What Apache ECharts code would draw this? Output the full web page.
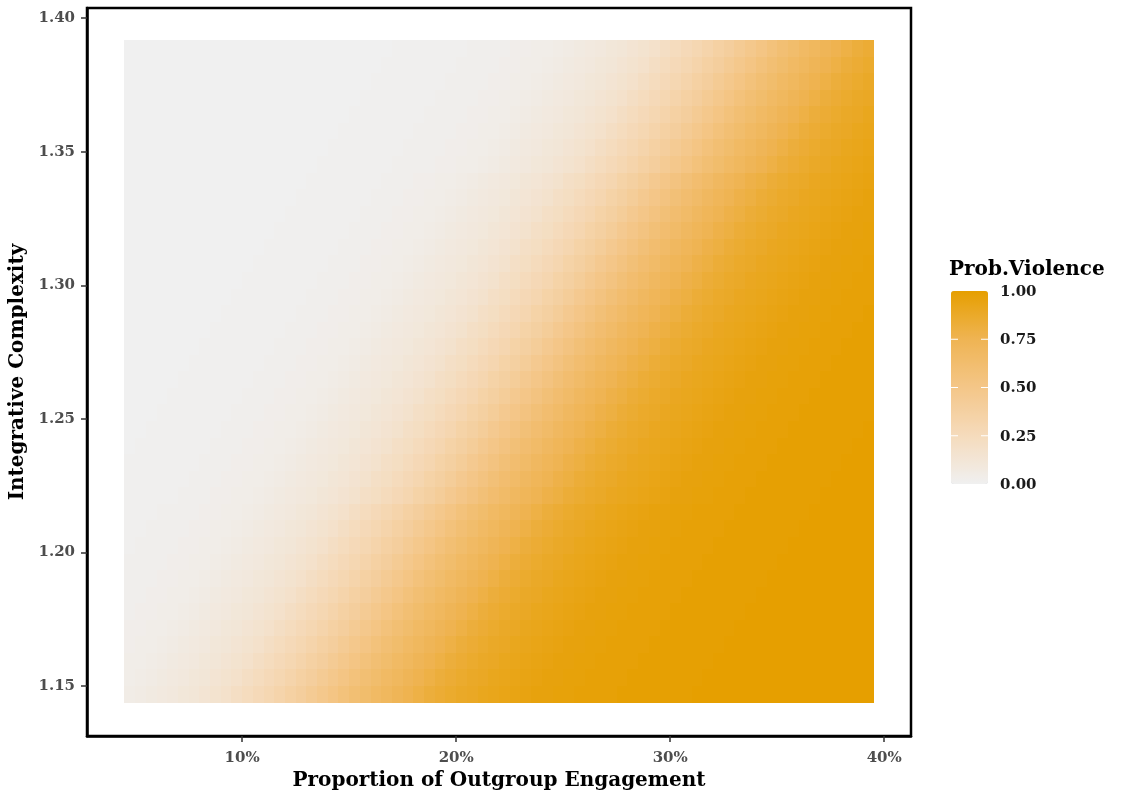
<!DOCTYPE html>
<html>
<head>
<meta charset="utf-8">
<script src="https://cdn.jsdelivr.net/npm/echarts@6/dist/echarts.min.js"></script>
<style>
  html, body { margin: 0; padding: 0; background: #fff; }
  #chart { width: 1121px; height: 794px; }
</style>
</head>
<body>
<div id="chart"></div>
<script>
// Proportion of outgroup engagement (%), column centres
const xVals = [4.75,5.25,5.75,6.25,6.75,7.25,7.75,8.25,8.75,9.25,
  9.75,10.25,10.75,11.25,11.75,12.25,12.75,13.25,13.75,14.25,
  14.75,15.25,15.75,16.25,16.75,17.25,17.75,18.25,18.75,19.25,
  19.75,20.25,20.75,21.25,21.75,22.25,22.75,23.25,23.75,24.25,
  24.75,25.25,25.75,26.25,26.75,27.25,27.75,28.25,28.75,29.25,
  29.75,30.25,30.75,31.25,31.75,32.25,32.75,33.25,33.75,34.25,
  34.75,35.25,35.75,36.25,36.75,37.25,37.75,38.25,38.75,39.25]
// Integrative complexity, row centres (bottom to top)
const yVals = [1.1469,1.1531,1.1593,1.1655,1.1717,1.1779,1.1841,1.1903,1.1965,1.2027,
  1.2089,1.2151,1.2213,1.2275,1.2337,1.2399,1.2461,1.2523,1.2585,1.2647,
  1.2709,1.2771,1.2833,1.2895,1.2957,1.3019,1.3081,1.3143,1.3205,1.3267,
  1.3329,1.3391,1.3453,1.3515,1.3577,1.3639,1.3701,1.3763,1.3825,1.3887]
const xStep = 0.5
const yStep = 0.0062

// Prob.Violence in percent; one row per yVals entry
const pctRows = [
  [5,6,7,8,9,11,12,14,16,18,21,24,27,30,33,37,40,44,48,52,56,60,63,67,70,73,76,79,82,84,86,88,89,91,92,93,94,95,96,96,97,97,98,98,98,98,99,99,99,99,99,99,99,100,100,100,100,100,100,100,100,100,100,100,100,100,100,100,100,100],
  [4,5,6,7,8,9,11,12,14,16,18,21,24,27,30,33,37,40,44,48,52,56,60,63,67,70,73,76,79,82,84,86,88,89,91,92,93,94,95,96,96,97,97,98,98,98,98,99,99,99,99,99,99,99,100,100,100,100,100,100,100,100,100,100,100,100,100,100,100,100],
  [4,4,5,6,7,8,9,11,12,14,16,18,21,24,27,30,33,37,40,44,48,52,56,60,63,67,70,73,76,79,82,84,86,88,89,91,92,93,94,95,96,96,97,97,98,98,98,98,99,99,99,99,99,99,99,100,100,100,100,100,100,100,100,100,100,100,100,100,100,100],
  [3,4,4,5,6,7,8,9,11,12,14,16,18,21,24,27,30,33,37,40,44,48,52,56,60,63,67,70,73,76,79,82,84,86,88,89,91,92,93,94,95,96,96,97,97,98,98,98,98,99,99,99,99,99,99,99,100,100,100,100,100,100,100,100,100,100,100,100,100,100],
  [3,3,4,4,5,6,7,8,9,11,12,14,16,18,21,24,27,30,33,37,40,44,48,52,56,60,63,67,70,73,76,79,82,84,86,88,89,91,92,93,94,95,96,96,97,97,98,98,98,98,99,99,99,99,99,99,99,100,100,100,100,100,100,100,100,100,100,100,100,100],
  [2,3,3,4,4,5,6,7,8,9,11,12,14,16,18,21,24,27,30,33,37,40,44,48,52,56,60,63,67,70,73,76,79,82,84,86,88,89,91,92,93,94,95,96,96,97,97,98,98,98,98,99,99,99,99,99,99,99,100,100,100,100,100,100,100,100,100,100,100,100],
  [2,2,3,3,4,4,5,6,7,8,9,11,12,14,16,18,21,24,27,30,33,37,40,44,48,52,56,60,63,67,70,73,76,79,82,84,86,88,89,91,92,93,94,95,96,96,97,97,98,98,98,98,99,99,99,99,99,99,99,100,100,100,100,100,100,100,100,100,100,100],
  [2,2,2,3,3,4,4,5,6,7,8,9,11,12,14,16,18,21,24,27,30,33,37,40,44,48,52,56,60,63,67,70,73,76,79,82,84,86,88,89,91,92,93,94,95,96,96,97,97,98,98,98,98,99,99,99,99,99,99,99,100,100,100,100,100,100,100,100,100,100],
  [2,2,2,2,3,3,4,4,5,6,7,8,9,11,12,14,16,18,21,24,27,30,33,37,40,44,48,52,56,60,63,67,70,73,76,79,82,84,86,88,89,91,92,93,94,95,96,96,97,97,98,98,98,98,99,99,99,99,99,99,99,100,100,100,100,100,100,100,100,100],
  [1,2,2,2,2,3,3,4,4,5,6,7,8,9,11,12,14,16,18,21,24,27,30,33,37,40,44,48,52,56,60,63,67,70,73,76,79,82,84,86,88,89,91,92,93,94,95,96,96,97,97,98,98,98,98,99,99,99,99,99,99,99,100,100,100,100,100,100,100,100],
  [1,1,2,2,2,2,3,3,4,4,5,6,7,8,9,11,12,14,16,18,21,24,27,30,33,37,40,44,48,52,56,60,63,67,70,73,76,79,82,84,86,88,89,91,92,93,94,95,96,96,97,97,98,98,98,98,99,99,99,99,99,99,99,100,100,100,100,100,100,100],
  [1,1,1,2,2,2,2,3,3,4,4,5,6,7,8,9,11,12,14,16,18,21,24,27,30,33,37,40,44,48,52,56,60,63,67,70,73,76,79,82,84,86,88,89,91,92,93,94,95,96,96,97,97,98,98,98,98,99,99,99,99,99,99,99,100,100,100,100,100,100],
  [1,1,1,1,1,2,2,2,3,3,4,4,5,6,7,8,9,10,12,13,15,17,20,22,25,28,31,35,38,42,46,50,54,58,62,65,69,72,75,78,80,83,85,87,88,90,91,92,93,94,95,96,96,97,97,98,98,98,99,99,99,99,99,99,99,100,100,100,100,100],
  [1,1,1,1,1,1,2,2,2,3,3,4,4,5,6,7,8,9,10,12,13,15,17,20,22,25,28,31,35,38,42,46,50,54,58,62,65,69,72,75,78,80,83,85,87,88,90,91,92,93,94,95,96,96,97,97,98,98,98,99,99,99,99,99,99,99,100,100,100,100],
  [1,1,1,1,1,1,1,2,2,2,3,3,4,4,5,6,7,8,9,10,12,13,15,17,20,22,25,28,31,35,38,42,46,50,54,58,62,65,69,72,75,78,80,83,85,87,88,90,91,92,93,94,95,96,96,97,97,98,98,98,99,99,99,99,99,99,99,100,100,100],
  [0,1,1,1,1,1,1,1,2,2,2,3,3,4,4,5,6,7,8,9,10,12,13,15,17,20,22,25,28,31,35,38,42,46,50,54,58,62,65,69,72,75,78,80,83,85,87,88,90,91,92,93,94,95,96,96,97,97,98,98,98,99,99,99,99,99,99,99,100,100],
  [0,0,1,1,1,1,1,1,1,2,2,2,3,3,4,4,5,6,7,8,9,10,12,13,15,17,20,22,25,28,31,35,38,42,46,50,54,58,62,65,69,72,75,78,80,83,85,87,88,90,91,92,93,94,95,96,96,97,97,98,98,98,99,99,99,99,99,99,99,100],
  [0,0,0,1,1,1,1,1,1,1,2,2,2,3,3,4,4,5,6,7,8,9,10,12,13,15,17,20,22,25,28,31,35,38,42,46,50,54,58,62,65,69,72,75,78,80,83,85,87,88,90,91,92,93,94,95,96,96,97,97,98,98,98,99,99,99,99,99,99,99],
  [0,0,0,0,1,1,1,1,1,1,1,2,2,2,3,3,4,4,5,6,7,8,9,10,12,13,15,17,20,22,25,28,31,35,38,42,46,50,54,58,62,65,69,72,75,78,80,83,85,87,88,90,91,92,93,94,95,96,96,97,97,98,98,98,99,99,99,99,99,99],
  [0,0,0,0,0,1,1,1,1,1,1,1,2,2,2,3,3,4,4,5,6,7,8,9,10,12,13,15,17,20,22,25,28,31,35,38,42,46,50,54,58,62,65,69,72,75,78,80,83,85,87,88,90,91,92,93,94,95,96,96,97,97,98,98,98,99,99,99,99,99],
  [0,0,0,0,0,0,1,1,1,1,1,1,1,2,2,2,3,3,4,4,5,6,7,8,9,10,12,13,15,17,20,22,25,28,31,35,38,42,46,50,54,58,62,65,69,72,75,78,80,83,85,87,88,90,91,92,93,94,95,96,96,97,97,98,98,98,99,99,99,99],
  [0,0,0,0,0,0,0,1,1,1,1,1,1,1,2,2,2,3,3,4,4,5,6,7,8,9,10,12,13,15,17,20,22,25,28,31,35,38,42,46,50,54,58,62,65,69,72,75,78,80,83,85,87,88,90,91,92,93,94,95,96,96,97,97,98,98,98,99,99,99],
  [0,0,0,0,0,0,0,0,1,1,1,1,1,1,1,2,2,2,3,3,4,4,5,6,7,8,9,10,12,13,15,17,20,22,25,28,31,35,38,42,46,50,54,58,62,65,69,72,75,78,80,83,85,87,88,90,91,92,93,94,95,96,96,97,97,98,98,98,99,99],
  [0,0,0,0,0,0,0,0,0,1,1,1,1,1,1,1,2,2,2,3,3,4,4,5,6,7,8,9,10,12,13,15,17,20,22,25,28,31,35,38,42,46,50,54,58,62,65,69,72,75,78,80,83,85,87,88,90,91,92,93,94,95,96,96,97,97,98,98,98,99],
  [0,0,0,0,0,0,0,0,0,0,1,1,1,1,1,1,1,2,2,2,3,3,4,4,5,6,7,8,9,10,12,13,15,17,20,22,25,28,31,35,38,42,46,50,54,58,62,65,69,72,75,78,80,83,85,87,88,90,91,92,93,94,95,96,96,97,97,98,98,98],
  [0,0,0,0,0,0,0,0,0,0,0,1,1,1,1,1,1,1,2,2,2,3,3,4,4,5,6,7,8,9,10,12,13,15,17,20,22,25,28,31,35,38,42,46,50,54,58,62,65,69,72,75,78,80,83,85,87,88,90,91,92,93,94,95,96,96,97,97,98,98],
  [0,0,0,0,0,0,0,0,0,0,0,0,1,1,1,1,1,1,1,2,2,2,3,3,4,4,5,6,7,8,9,10,12,13,15,17,20,22,25,28,31,35,38,42,46,50,54,58,62,65,69,72,75,78,80,83,85,87,88,90,91,92,93,94,95,96,96,97,97,98],
  [0,0,0,0,0,0,0,0,0,0,0,0,0,1,1,1,1,1,1,1,2,2,2,3,3,4,4,5,6,7,8,9,10,12,13,15,17,20,22,25,28,31,35,38,42,46,50,54,58,62,65,69,72,75,78,80,83,85,87,88,90,91,92,93,94,95,96,96,97,97],
  [0,0,0,0,0,0,0,0,0,0,0,0,0,0,1,1,1,1,1,1,1,2,2,2,3,3,4,4,5,6,7,8,9,10,12,13,15,17,20,22,25,28,31,35,38,42,46,50,54,58,62,65,69,72,75,78,80,83,85,87,88,90,91,92,93,94,95,96,96,97],
  [0,0,0,0,0,0,0,0,0,0,0,0,0,0,0,1,1,1,1,1,1,1,2,2,2,3,3,4,4,5,6,7,8,9,10,12,13,15,17,20,22,25,28,31,35,38,42,46,50,54,58,62,65,69,72,75,78,80,83,85,87,88,90,91,92,93,94,95,96,96],
  [0,0,0,0,0,0,0,0,0,0,0,0,0,0,0,0,1,1,1,1,1,1,1,2,2,2,3,3,4,4,5,6,7,8,9,10,12,13,15,17,20,22,25,28,31,35,38,42,46,50,54,58,62,65,69,72,75,78,80,83,85,87,88,90,91,92,93,94,95,96],
  [0,0,0,0,0,0,0,0,0,0,0,0,0,0,0,0,0,1,1,1,1,1,1,1,2,2,2,3,3,4,4,5,6,7,8,9,10,12,13,15,17,20,22,25,28,31,35,38,42,46,50,54,58,62,65,69,72,75,78,80,83,85,87,88,90,91,92,93,94,95],
  [0,0,0,0,0,0,0,0,0,0,0,0,0,0,0,0,0,0,1,1,1,1,1,1,1,2,2,2,2,3,3,4,4,5,6,7,8,9,11,12,14,16,18,21,24,27,30,33,37,40,44,48,52,56,60,63,67,70,73,76,79,82,84,86,88,89,91,92,93,94],
  [0,0,0,0,0,0,0,0,0,0,0,0,0,0,0,0,0,0,0,1,1,1,1,1,1,1,2,2,2,2,3,3,4,4,5,6,7,8,9,11,12,14,16,18,21,24,27,30,33,37,40,44,48,52,56,60,63,67,70,73,76,79,82,84,86,88,89,91,92,93],
  [0,0,0,0,0,0,0,0,0,0,0,0,0,0,0,0,0,0,0,0,1,1,1,1,1,1,1,2,2,2,2,3,3,4,4,5,6,7,8,9,11,12,14,16,18,21,24,27,30,33,37,40,44,48,52,56,60,63,67,70,73,76,79,82,84,86,88,89,91,92],
  [0,0,0,0,0,0,0,0,0,0,0,0,0,0,0,0,0,0,0,0,0,1,1,1,1,1,1,1,2,2,2,2,3,3,4,4,5,6,7,8,9,11,12,14,16,18,21,24,27,30,33,37,40,44,48,52,56,60,63,67,70,73,76,79,82,84,86,88,89,91],
  [0,0,0,0,0,0,0,0,0,0,0,0,0,0,0,0,0,0,0,0,0,0,1,1,1,1,1,1,1,2,2,2,2,3,3,4,4,5,6,7,8,9,11,12,14,16,18,21,24,27,30,33,37,40,44,48,52,56,60,63,67,70,73,76,79,82,84,86,88,89],
  [0,0,0,0,0,0,0,0,0,0,0,0,0,0,0,0,0,0,0,0,0,0,0,1,1,1,1,1,1,1,2,2,2,2,3,3,4,4,5,6,7,8,9,11,12,14,16,18,21,24,27,30,33,37,40,44,48,52,56,60,63,67,70,73,76,79,82,84,86,88],
  [0,0,0,0,0,0,0,0,0,0,0,0,0,0,0,0,0,0,0,0,0,0,0,0,1,1,1,1,1,1,1,2,2,2,2,3,3,4,4,5,6,7,8,9,11,12,14,16,18,21,24,27,30,33,37,40,44,48,52,56,60,63,67,70,73,76,79,82,84,86],
  [0,0,0,0,0,0,0,0,0,0,0,0,0,0,0,0,0,0,0,0,0,0,0,0,0,1,1,1,1,1,1,1,2,2,2,2,3,3,4,4,5,6,7,8,9,11,12,14,16,18,21,24,27,30,33,37,40,44,48,52,56,60,63,67,70,73,76,79,82,84]
]

// tick labels
const xTicks = [10, 20, 30, 40]
const yTicks = [1.15, 1.20, 1.25, 1.30, 1.35, 1.40]
const legendTicks = [0, 0.25, 0.5, 0.75, 1]

const fontFamily = '"DejaVu Serif", "Liberation Serif", serif'
// grey -> orange, stops picked to follow a Lab-like blend
const palette = ['#F0F0F0', '#F5DBBC', '#F4C688', '#EFB453', '#E69F00']

let cells = []
pctRows.forEach((row, k) => {
  if (row.length !== xVals.length) console.warn('row ' + k + ' has ' + row.length + ' values')
  row.forEach((p, i) => {
    if (i < xVals.length) cells.push([xVals[i], yVals[k], p])
  })
})

// legend bar box
const bar = { left: 951, top: 291, width: 37, height: 193 }

let graphics = [{
  type: 'text',
  left: 949,
  top: 260,
  style: { text: 'Prob.Violence', font: 'bold 20px ' + fontFamily, fill: '#000' }
}]
legendTicks.forEach(v => {
  let y = bar.top + (1 - v) * bar.height
  graphics.push({
    type: 'text',
    x: 1000,
    y: y + 1,
    style: { text: v.toFixed(2), font: 'bold 15px ' + fontFamily, fill: '#1a1a1a', verticalAlign: 'middle' }
  })
  if (v > 0 && v < 1) {
    graphics.push({ type: 'line', shape: { x1: bar.left, y1: y, x2: bar.left + 7, y2: y }, style: { stroke: '#fff', lineWidth: 1 }, z: 100 })
    graphics.push({ type: 'line', shape: { x1: bar.left + bar.width - 7, y1: y, x2: bar.left + bar.width, y2: y }, style: { stroke: '#fff', lineWidth: 1 }, z: 100 })
  }
})

let myChart = echarts.init(document.getElementById('chart'), null, { renderer: 'canvas' })
let option = {
  backgroundColor: '#FFFFFF',
  animation: false,
  grid: {
    left: 87,
    right: 210,
    top: 8,
    bottom: 58,
    outerBoundsMode: 'none',
    show: true,
    borderColor: '#000',
    borderWidth: 2.5,
    backgroundColor: 'transparent'
  },
  xAxis: {
    type: 'value',
    min: 2.75,
    max: 41.25,
    name: 'Proportion of Outgroup Engagement',
    nameLocation: 'middle',
    nameGap: 34,
    nameTextStyle: { color: '#000', fontSize: 20, fontWeight: 'bold', fontFamily: fontFamily },
    axisLine: { show: true, lineStyle: { color: '#000', width: 2.5 } },
    axisTick: { show: true, length: 6, customValues: xTicks, lineStyle: { color: '#333', width: 1.5 } },
    axisLabel: {
      customValues: xTicks,
      margin: 15,
      color: '#4D4D4D',
      fontSize: 15,
      fontWeight: 'bold',
      fontFamily: fontFamily,
      formatter: val => val + '%'
    },
    splitLine: { show: false }
  },
  yAxis: {
    type: 'value',
    min: 1.1313,
    max: 1.4038,
    name: 'Integrative Complexity',
    nameLocation: 'middle',
    nameGap: 54,
    nameTextStyle: { color: '#000', fontSize: 20, fontWeight: 'bold', fontFamily: fontFamily },
    axisLine: { show: true, lineStyle: { color: '#000', width: 2.5 } },
    axisTick: { show: true, length: 6, customValues: yTicks, lineStyle: { color: '#333', width: 1.5 } },
    axisLabel: {
      customValues: yTicks,
      margin: 12,
      color: '#4D4D4D',
      fontSize: 15,
      fontWeight: 'bold',
      fontFamily: fontFamily,
      formatter: val => val.toFixed(2)
    },
    splitLine: { show: false }
  },
  visualMap: {
    type: 'continuous',
    min: 0,
    max: 100,
    dimension: 2,
    seriesIndex: 0,
    calculable: false,
    hoverLink: false,
    orient: 'vertical',
    left: bar.left,
    top: bar.top,
    itemWidth: bar.width,
    itemHeight: bar.height,
    padding: 0,
    inRange: { color: palette }
  },
  graphic: graphics,
  series: [{
    type: 'custom',
    name: 'Prob.Violence',
    encode: { x: 0, y: 1 },
    data: cells,
    renderItem: function (params, api) {
      let x = api.value(0)
      let y = api.value(1)
      let p0 = api.coord([x - xStep / 2, y + yStep / 2])
      let p1 = api.coord([x + xStep / 2, y - yStep / 2])
      let x0 = Math.round(p0[0]), x1 = Math.round(p1[0])
      let y0 = Math.round(p0[1]), y1 = Math.round(p1[1])
      return {
        type: 'rect',
        shape: { x: x0, y: y0, width: x1 - x0, height: y1 - y0 },
        style: { fill: api.visual('color') }
      }
    }
  }]
}
myChart.setOption(option)
</script>
</body>
</html>
